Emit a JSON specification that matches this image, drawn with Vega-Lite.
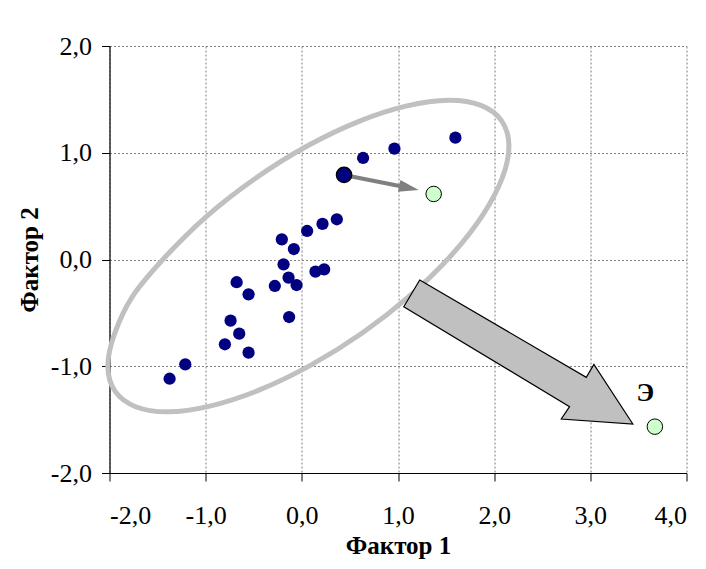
{
  "$schema": "https://vega.github.io/schema/vega-lite/v6.json",
  "autosize": {"type": "none"},
  "width": 577,
  "height": 427,
  "padding": {"left": 109.5, "top": 46, "right": 19.5, "bottom": 96},
  "background": "white",
  "config": {
    "view": {"stroke": null},
    "font": "Liberation Serif"
  },
  "datasets": {
    "ellipse": [
      {"i": 1, "x": 2.076, "y": 1.301},
      {"i": 2, "x": 2.153, "y": 1.072},
      {"i": 3, "x": 2.087, "y": 0.771},
      {"i": 4, "x": 1.884, "y": 0.42},
      {"i": 5, "x": 1.557, "y": 0.042},
      {"i": 6, "x": 1.128, "y": -0.336},
      {"i": 7, "x": 0.628, "y": -0.689},
      {"i": 8, "x": 0.089, "y": -0.992},
      {"i": 9, "x": -0.452, "y": -1.226},
      {"i": 10, "x": -0.957, "y": -1.373},
      {"i": 11, "x": -1.392, "y": -1.427},
      {"i": 12, "x": -1.728, "y": -1.379},
      {"i": 13, "x": -1.941, "y": -1.236},
      {"i": 14, "x": -2.017, "y": -1.006},
      {"i": 15, "x": -1.951, "y": -0.705},
      {"i": 16, "x": -1.76, "y": -0.345},
      {"i": 17, "x": -1.421, "y": 0.023},
      {"i": 18, "x": -0.993, "y": 0.402},
      {"i": 19, "x": -0.492, "y": 0.754},
      {"i": 20, "x": 0.046, "y": 1.058},
      {"i": 21, "x": 0.587, "y": 1.292},
      {"i": 22, "x": 1.092, "y": 1.439},
      {"i": 23, "x": 1.527, "y": 1.492},
      {"i": 24, "x": 1.863, "y": 1.444}
    ],
    "bigArrow": [
      {"i": 1, "x": 1.226, "y": -0.192},
      {"i": 2, "x": 2.958, "y": -1.104},
      {"i": 3, "x": 3.037, "y": -0.982},
      {"i": 4, "x": 3.442, "y": -1.541},
      {"i": 5, "x": 2.698, "y": -1.494},
      {"i": 6, "x": 2.784, "y": -1.379},
      {"i": 7, "x": 1.06, "y": -0.442}
    ],
    "shaft": [
      {"x": 0.439, "y": 0.792, "x2": 1.03, "y2": 0.686}
    ],
    "head": [
      {"x": 1.114, "y": 0.671}
    ],
    "points": [
      {"x": 1.597, "y": 1.141},
      {"x": 0.963, "y": 1.038},
      {"x": 0.637, "y": 0.951},
      {"x": 0.364, "y": 0.377},
      {"x": 0.215, "y": 0.333},
      {"x": 0.055, "y": 0.267},
      {"x": -0.208, "y": 0.189},
      {"x": -0.083, "y": 0.098},
      {"x": -0.19, "y": -0.045},
      {"x": -0.138, "y": -0.17},
      {"x": -0.055, "y": -0.239},
      {"x": -0.281, "y": -0.248},
      {"x": 0.142, "y": -0.114},
      {"x": 0.232, "y": -0.092},
      {"x": -0.678, "y": -0.213},
      {"x": -0.554, "y": -0.326},
      {"x": -0.132, "y": -0.539},
      {"x": -0.741, "y": -0.573},
      {"x": -0.651, "y": -0.695},
      {"x": -0.8, "y": -0.794},
      {"x": -0.554, "y": -0.873},
      {"x": -1.212, "y": -0.982},
      {"x": -1.375, "y": -1.117}
    ],
    "bigPoint": [
      {"x": 0.439, "y": 0.792}
    ],
    "green": [
      {"x": 1.371, "y": 0.614},
      {"x": 3.671, "y": -1.566}
    ],
    "label": [
      {"x": 3.571, "y": -1.253, "t": "Э"}
    ]
  },
  "encoding": {
    "x": {
      "field": "x",
      "type": "quantitative",
      "scale": {"domain": [-2, 4], "nice": false, "zero": false},
      "axis": {
        "title": "Фактор 1",
        "values": [-2, -1, 0, 1, 2, 3, 4],
        "labelExpr": "(datum.value < 0 ? '-' : '') + replace(format(abs(datum.value), '.1f'), '.', ',')",
        "labelFont": "Liberation Serif",
        "labelFontSize": 26,
        "labelColor": "black",
        "labelPadding": 21,
        "titleFont": "Liberation Serif",
        "titleFontSize": 25,
        "titleFontWeight": "bold",
        "titleColor": "black",
        "titlePadding": 5,
        "domainColor": "black",
        "domainWidth": 1.2,
        "tickColor": "black",
        "tickSize": 8,
        "tickWidth": 1,
        "gridColor": "#808080",
        "gridDash": [2, 2],
        "gridWidth": 1
      }
    },
    "y": {
      "field": "y",
      "type": "quantitative",
      "scale": {"domain": [-2, 2], "nice": false, "zero": false},
      "axis": {
        "title": "Фактор 2",
        "values": [-2, -1, 0, 1, 2],
        "labelExpr": "(datum.value < 0 ? '-' : '') + replace(format(abs(datum.value), '.1f'), '.', ',')",
        "labelFont": "Liberation Serif",
        "labelFontSize": 26,
        "labelColor": "black",
        "labelPadding": 10,
        "titleFont": "Liberation Serif",
        "titleFontSize": 25,
        "titleFontWeight": "bold",
        "titleColor": "black",
        "titlePadding": 8,
        "domainColor": "black",
        "domainWidth": 1.2,
        "tickColor": "black",
        "tickSize": 8,
        "tickWidth": 1,
        "gridColor": "#808080",
        "gridDash": [2, 2],
        "gridWidth": 1
      }
    }
  },
  "layer": [
    {
      "data": {"name": "ellipse"},
      "mark": {"type": "line", "interpolate": "cardinal-closed", "stroke": "#c0c0c0", "strokeWidth": 5, "clip": false},
      "encoding": {"order": {"field": "i", "type": "quantitative"}}
    },
    {
      "data": {"name": "bigArrow"},
      "mark": {"type": "line", "interpolate": "linear-closed", "fill": "#c0c0c0", "stroke": "black", "strokeWidth": 1.2, "strokeJoin": "miter"},
      "encoding": {"order": {"field": "i", "type": "quantitative"}}
    },
    {
      "data": {"name": "shaft"},
      "mark": {"type": "rule", "stroke": "#808080", "strokeWidth": 4},
      "encoding": {"x2": {"field": "x2"}, "y2": {"field": "y2"}}
    },
    {
      "data": {"name": "head"},
      "mark": {"type": "point", "shape": "M -1 -0.6 L 1 0 L -1 0.6 Z", "filled": true, "color": "#808080", "size": 400, "angle": 12, "opacity": 1}
    },
    {
      "data": {"name": "points"},
      "mark": {"type": "circle", "color": "#000080", "size": 150, "opacity": 1}
    },
    {
      "data": {"name": "bigPoint"},
      "mark": {"type": "point", "shape": "circle", "filled": true, "fill": "#000080", "stroke": "black", "strokeWidth": 1.5, "size": 230, "opacity": 1}
    },
    {
      "data": {"name": "green"},
      "mark": {"type": "point", "shape": "circle", "filled": true, "fill": "#ccffcc", "stroke": "black", "strokeWidth": 1, "size": 240, "opacity": 1}
    },
    {
      "data": {"name": "label"},
      "mark": {"type": "text", "font": "Liberation Serif", "fontSize": 26, "fontWeight": "bold", "color": "black"},
      "encoding": {"text": {"field": "t"}}
    }
  ]
}
